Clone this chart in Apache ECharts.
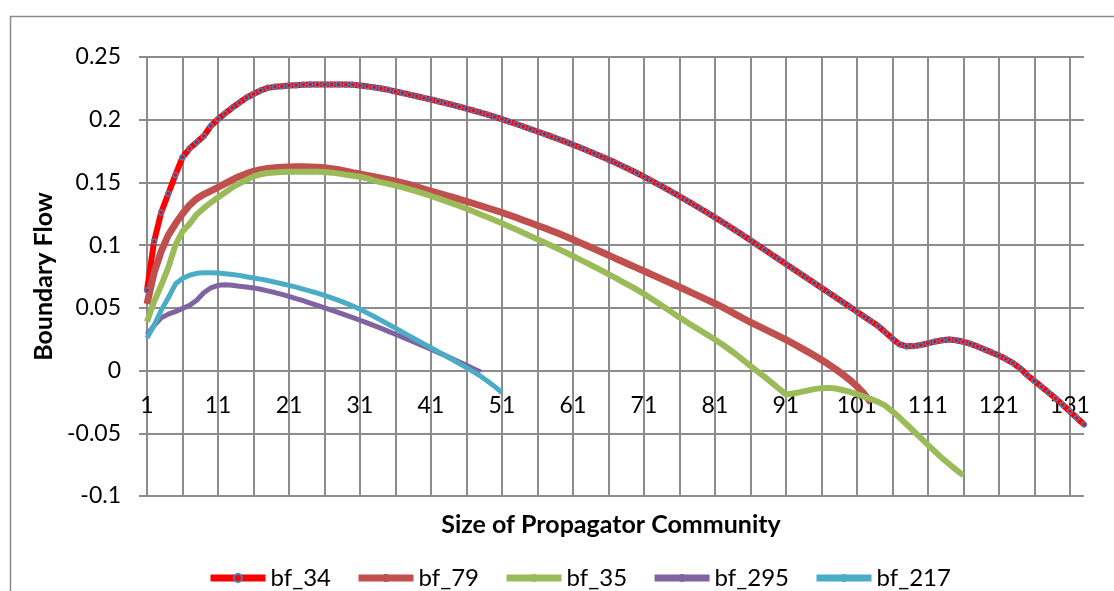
<!DOCTYPE html>
<html>
<head>
<meta charset="utf-8">
<script src="https://cdn.jsdelivr.net/npm/echarts@6/dist/echarts.min.js"></script>
<style>
html,body{margin:0;padding:0;background:#fff;}
#c{width:1114px;height:591px;}
</style>
</head>
<body>
<div id="c"></div>
<script>
var categories = [
1,2,3,4,5,6,7,8,9,10,11,12,13,14,15,16,17,18,19,20,
21,22,23,24,25,26,27,28,29,30,31,32,33,34,35,36,37,38,39,40,
41,42,43,44,45,46,47,48,49,50,51,52,53,54,55,56,57,58,59,60,
61,62,63,64,65,66,67,68,69,70,71,72,73,74,75,76,77,78,79,80,
81,82,83,84,85,86,87,88,89,90,91,92,93,94,95,96,97,98,99,100,
101,102,103,104,105,106,107,108,109,110,111,112,113,114,115,116,117,118,119,120,
121,122,123,124,125,126,127,128,129,130,131,132,133
];

var bf_34 = [
0.064,0.103,0.126,0.141,0.156,0.170,0.177,0.182,0.187,0.195,
0.2005,0.205,0.2095,0.2135,0.2175,0.2205,0.2233,0.2254,0.2262,0.2267,
0.2272,0.2275,0.2278,0.2280,0.2281,0.2281,0.2281,0.2281,0.2280,0.2278,
0.2273,0.2266,0.2258,0.2249,0.2238,0.2225,0.2213,0.2200,0.2187,0.2174,
0.2161,0.2147,0.2133,0.2119,0.2104,0.2089,0.2073,0.2057,0.2040,0.2023,
0.2005,0.1985,0.1966,0.1946,0.1926,0.1906,0.1886,0.1865,0.1844,0.1823,
0.1801,0.1779,0.1755,0.1731,0.1707,0.1682,0.1657,0.1630,0.1603,0.1575,
0.1546,0.1516,0.1485,0.1454,0.1422,0.1390,0.1357,0.1324,0.1290,0.1256,
0.1221,0.1186,0.1150,0.1114,0.1077,0.1040,0.1002,0.0964,0.0926,0.0888,
0.0850,0.0812,0.0774,0.0736,0.0698,0.0660,0.0622,0.0584,0.0546,0.0508,
0.0470,0.0432,0.0394,0.0355,0.0305,0.0255,0.0210,0.0193,0.0195,0.0204,
0.0217,0.0231,0.0242,0.0247,0.0242,0.0230,0.0213,0.0192,0.0168,0.0145,
0.0120,0.0092,0.0060,0.0018,-0.0035,-0.0082,-0.0128,-0.0175,-0.0222,-0.0272,
-0.0325,-0.0378,-0.0430
];

var bf_79 = [
0.053,0.078,0.095,0.108,0.117,0.125,0.132,0.137,0.1405,0.1433,
0.146,0.149,0.152,0.1548,0.157,0.1588,0.1602,0.1612,0.1618,0.1622,
0.1624,0.1625,0.1625,0.1624,0.1621,0.1617,0.1610,0.1601,0.1590,0.1578,
0.1567,0.1556,0.1545,0.1534,0.1522,0.1510,0.1496,0.1482,0.1464,0.1447,
0.1430,0.1414,0.1398,0.1382,0.1366,0.1349,0.1332,0.1314,0.1296,0.1278,
0.1260,0.1240,0.1220,0.1199,0.1178,0.1157,0.1136,0.1114,0.1092,0.1069,
0.1045,0.1020,0.0995,0.0970,0.0945,0.0920,0.0894,0.0869,0.0844,0.0819,
0.0794,0.0768,0.0743,0.0717,0.0692,0.0666,0.0640,0.0614,0.0588,0.0562,
0.0535,0.0508,0.0477,0.0446,0.0415,0.0385,0.0358,0.0331,0.0303,0.0275,
0.0247,0.0216,0.0185,0.0153,0.0120,0.0086,0.0050,0.0012,-0.0030,-0.0075,
-0.0125,-0.0185,-0.0255
];

var bf_35 = [
0.039,0.055,0.068,0.082,0.100,0.111,0.117,0.1245,0.1295,0.134,
0.138,0.142,0.146,0.149,0.152,0.1548,0.1565,0.1575,0.158,0.1583,
0.1585,0.1586,0.1586,0.1586,0.1585,0.1583,0.1578,0.1570,0.1561,0.1553,
0.1545,0.1532,0.1515,0.1500,0.1488,0.1475,0.1460,0.1445,0.1428,0.1410,
0.1392,0.1373,0.1353,0.1333,0.1312,0.1290,0.1268,0.1245,0.1222,0.1198,
0.1174,0.1149,0.1124,0.1099,0.1073,0.1047,0.1021,0.0995,0.0968,0.0941,
0.0913,0.0885,0.0857,0.0828,0.0799,0.0769,0.0739,0.0708,0.0677,0.0645,
0.0612,0.0574,0.0538,0.0500,0.0462,0.0424,0.0388,0.0352,0.0318,0.0283,
0.0247,0.0210,0.0170,0.0128,0.0083,0.0038,-0.0006,-0.0050,-0.0096,-0.0143,
-0.0190,-0.0183,-0.0172,-0.0160,-0.0148,-0.0140,-0.0138,-0.0143,-0.0155,-0.0170,
-0.0188,-0.0208,-0.0228,-0.0250,-0.0280,-0.0325,-0.0375,-0.0428,-0.0482,-0.0537,
-0.0592,-0.0645,-0.0698,-0.0745,-0.0792,-0.0835
];

var bf_295 = [
0.0285,0.036,0.042,0.045,0.047,0.0495,0.052,0.056,0.062,0.066,
0.068,0.0685,0.068,0.0673,0.0667,0.0659,0.0648,0.0635,0.0622,0.0608,
0.0592,0.0574,0.0557,0.0538,0.0519,0.0500,0.0481,0.0462,0.0442,0.0422,
0.0401,0.0380,0.0358,0.0336,0.0313,0.0290,0.0267,0.0243,0.0219,0.0195,
0.0170,0.0145,0.0120,0.0094,0.0068,0.0042,0.0015,-0.0012
];

var bf_217 = [
0.026,0.036,0.048,0.058,0.069,0.0735,0.0760,0.0775,0.0779,0.0780,
0.0778,0.0772,0.0766,0.0759,0.0748,0.0738,0.0729,0.0718,0.0705,0.0692,
0.0679,0.0665,0.0650,0.0634,0.0617,0.0599,0.0580,0.0560,0.0538,0.0515,
0.0488,0.0460,0.0431,0.0400,0.0369,0.0338,0.0306,0.0275,0.0244,0.0213,
0.0182,0.0151,0.0120,0.0088,0.0056,0.0023,-0.0010,-0.0045,-0.0085,-0.0128,
-0.0175
];

var seriesNames = ['bf_34','bf_79','bf_35','bf_295','bf_217'];
var yMin = -0.1, yMax = 0.25, yStep = 0.05;
var FONT = 'Lato';
var GRID = '#8c8c8c';

var gridTop = 57, gridBottom = 95, H = 591;
var plotH = H - gridTop - gridBottom;
// distance from the bottom of the plot up to the value 0 (so the category axis crosses at zero)
var zeroOffset = -plotH * (0 - yMin) / (yMax - yMin);

var chart = echarts.init(document.getElementById('c'), null, {renderer:'canvas'});
var option = {
  animation: false,
  backgroundColor: '#ffffff',
  graphic: [{
    type: 'rect', left: 8, top: 14, silent: true,
    shape: {width: 1200, height: 700},
    style: {fill: 'none', stroke: '#8a8a8a', lineWidth: 1.5}
  }],
  title: {
    text: 'Size of Propagator Community',
    left: 606, top: 507, textAlign: 'center',
    textStyle: {fontFamily: FONT, fontSize: 25, fontWeight: 'bold', color: '#000'}
  },
  grid: {left: 147, right: 30, top: gridTop, bottom: gridBottom, containLabel: false, outerBoundsMode: 'none'},
  legend: {
    data: seriesNames,
    left: 207, top: 566, padding: 0,
    itemWidth: 55, itemHeight: 10, itemGap: 24,
    lineStyle: {width: 7},
    textStyle: {fontFamily: FONT, fontSize: 24, color: '#000'}
  },
  xAxis: {
    type: 'category', data: categories, boundaryGap: false,
    position: 'bottom', offset: zeroOffset,
    axisLine: {onZero: false, lineStyle: {color: GRID, width: 2}},
    axisTick: {show: false},
    axisLabel: {interval: 9, margin: 24, fontFamily: FONT, fontSize: 23, color: '#000', hideOverlap: false, showMinLabel: true},
    splitLine: {show: true, interval: 4, lineStyle: {color: GRID, width: 2}}
  },
  yAxis: {
    type: 'value', min: yMin, max: yMax, interval: yStep,
    name: 'Boundary Flow', nameLocation: 'middle', nameGap: 90,
    nameTextStyle: {fontFamily: FONT, fontSize: 25, fontWeight: 'bold', color: '#000'},
    axisLine: {show: true, lineStyle: {color: GRID, width: 2}},
    axisTick: {show: true, length: 8, lineStyle: {color: GRID, width: 2}},
    axisLabel: {margin: 26, fontFamily: FONT, fontSize: 23, color: '#000'},
    splitLine: {show: true, lineStyle: {color: GRID, width: 2}}
  },
  series: [
    {name: 'bf_34', type: 'line', data: bf_34, symbol: 'circle', symbolSize: 5, showAllSymbol: true,
     lineStyle: {color: '#ff0000', width: 6},
     itemStyle: {color: '#ff0000', borderColor: '#4a7ebb', borderWidth: 1.5}},
    {name: 'bf_79', type: 'line', data: bf_79, symbol: 'none',
     lineStyle: {color: '#c0504d', width: 7}, itemStyle: {color: '#c0504d'}},
    {name: 'bf_35', type: 'line', data: bf_35, symbol: 'none',
     lineStyle: {color: '#9bbb59', width: 6}, itemStyle: {color: '#9bbb59'}},
    {name: 'bf_295', type: 'line', data: bf_295, symbol: 'none',
     lineStyle: {color: '#8064a2', width: 5}, itemStyle: {color: '#8064a2'}},
    {name: 'bf_217', type: 'line', data: bf_217, symbol: 'none',
     lineStyle: {color: '#4bacc6', width: 5}, itemStyle: {color: '#4bacc6'}}
  ]
};
chart.setOption(option);
</script>
</body>
</html>
